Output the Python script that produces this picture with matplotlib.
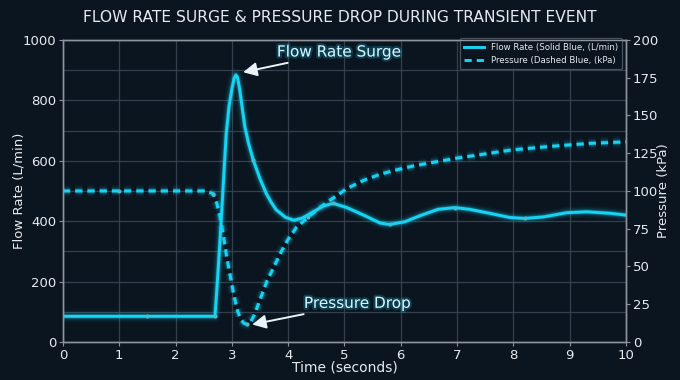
import matplotlib
matplotlib.use("Agg")
import matplotlib.pyplot as plt
import matplotlib.patheffects as pe
from matplotlib.lines import Line2D
import numpy as np

plt.rcParams["lines.scale_dashes"] = False

# ---- data ----
flow_time = [0.0, 1.5, 2.70, 2.75, 2.80, 2.85, 2.90, 2.95, 3.00, 3.04, 3.07, 3.10,
             3.14, 3.18, 3.23, 3.30, 3.38, 3.50, 3.61, 3.70, 3.79, 3.95, 4.10,
             4.25, 4.45, 4.62, 4.80, 5.04, 5.34, 5.63, 5.80, 6.07, 6.37, 6.66,
             6.96, 7.23, 7.58, 7.94, 8.20, 8.53, 8.95, 9.30, 9.72, 10.0]
flow_rate = [85, 85, 85, 220, 370, 530, 690, 780, 838, 872, 884, 876,
             835, 780, 713, 655, 602, 540, 492, 462, 437, 413, 403,
             410, 431, 450, 459, 445, 420, 394, 389, 398, 420, 439,
             445, 439, 426, 412, 409, 414, 428, 431, 426, 420]
flow_markers = [1, 2, 16, 26, 30, 34, 38]

pres_time = [0.0, 1.0, 2.55, 2.67, 2.73, 2.79, 2.85, 2.91, 2.97, 3.03, 3.09,
             3.15, 3.21, 3.27, 3.33, 3.40, 3.50, 3.62, 3.75, 3.88, 4.00, 4.15,
             4.35, 4.55, 4.75, 5.04, 5.34, 5.63, 5.93, 6.22, 6.52, 6.96, 7.41,
             7.94, 8.65, 9.36, 10.0]
pressure = [100, 100, 100, 98, 92, 83, 70, 56, 44, 32, 22,
            15.5, 12.5, 11.7, 13, 18, 28, 40, 50, 60, 68, 76,
            82.5, 88.5, 94, 101.5, 107, 111, 114, 116.5, 118.6, 121.5, 124,
            127, 129.5, 131.5, 132.5]
pres_markers = [1, 3, 13, 22]

x_ticks = list(range(0, 11))
flow_ticks = [0, 200, 400, 600, 800, 1000]
pres_ticks = [0, 25, 50, 75, 100, 125, 150, 175, 200]

BG = "#0a1520"
CYAN = "#17d4f5"
TXT = "#e6eaee"
GRID = "#3b4754"
SPINE = "#8d949c"

fig = plt.figure(figsize=(6.8, 3.8), dpi=100, facecolor=BG)
ax = fig.add_axes([0.0926, 0.1, 0.828, 0.795], facecolor=BG)
ax2 = ax.twinx()

def glow_plot(a, x, y, ls, markevery):
    for lw, al in [(8.5, 0.045), (6.2, 0.08), (4.4, 0.13), (3.1, 0.24)]:
        a.plot(x, y, color=CYAN, lw=lw, alpha=al, ls=ls, solid_capstyle="round",
               solid_joinstyle="round")
    a.plot(x, y, color=CYAN, lw=2.1, ls=ls, solid_joinstyle="round",
           marker="o", markersize=3.0, markevery=markevery,
           markerfacecolor="#4fb9cc", markeredgecolor="none")

DASH = (0, (5.2, 3.6))
glow_plot(ax, flow_time, flow_rate, "-", flow_markers)
glow_plot(ax2, pres_time, pressure, DASH, pres_markers)

ax.set_xlim(0, 10)
ax.set_ylim(0, 1000)
ax2.set_ylim(0, 200)
ax.set_xticks(x_ticks)
ax.set_yticks(flow_ticks)
ax.set_yticks(np.arange(100, 1000, 200), minor=True)
ax.set_yticklabels([], minor=True)
ax2.set_yticks(pres_ticks)

ax.grid(True, which="both", color=GRID, lw=0.9, alpha=0.85)
ax.tick_params(which="minor", length=0)
ax.set_axisbelow(True)

for a in (ax, ax2):
    for s in a.spines.values():
        s.set_color(SPINE)
        s.set_linewidth(1.0)
    a.tick_params(colors=SPINE, labelcolor=TXT, labelsize=9.5, length=3, pad=2)

ax.set_xlabel("Time (seconds)", color=TXT, fontsize=10, labelpad=-1)
ax.set_ylabel("Flow Rate (L/min)", color=TXT, fontsize=9.5, labelpad=-2)
ax2.set_ylabel("Pressure (kPa)", color=TXT, fontsize=9.5, labelpad=-1)

fig.suptitle("FLOW RATE SURGE & PRESSURE DROP DURING TRANSIENT EVENT",
             color=TXT, fontsize=11.2, y=0.975)

glow = [pe.withStroke(linewidth=3, foreground=CYAN, alpha=0.22)]
arrowprops = dict(arrowstyle="-|>,head_length=0.75,head_width=0.38",
                  color="#e8f4f8", lw=1.4, shrinkA=2, shrinkB=0)
ax.annotate("Flow Rate Surge", xy=(3.2, 893), xytext=(3.8, 960),
            textcoords="data", color="#d5f4ff", fontsize=11,
            ha="left", va="center", path_effects=glow,
            arrowprops=arrowprops, zorder=10)
ax.annotate("Pressure Drop", xy=(3.36, 58), xytext=(4.28, 128),
            textcoords="data", color="#d5f4ff", fontsize=11,
            ha="left", va="center", path_effects=glow,
            arrowprops=arrowprops, zorder=10)

handles = [Line2D([], [], color=CYAN, lw=2.1, ls="-"),
           Line2D([], [], color=CYAN, lw=2.1, ls=DASH)]
labels = ["Flow Rate (Solid Blue, (L/min)", "Pressure (Dashed Blue, (kPa)"]
leg = ax.legend(handles, labels, loc="upper right", fontsize=6.2,
                facecolor=BG, edgecolor="#4f5a66", framealpha=0.9,
                labelcolor=TXT, borderpad=0.5, handlelength=2.3,
                borderaxespad=0.0, bbox_to_anchor=(0.993, 1.005))
leg.get_frame().set_linewidth(0.9)

fig.savefig("out.png", dpi=100, facecolor=BG)
